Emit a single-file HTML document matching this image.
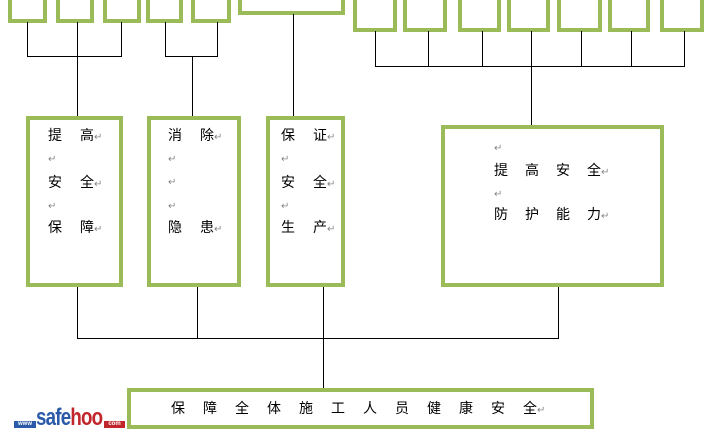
<!DOCTYPE html>
<html><head><meta charset="utf-8"><style>
body{margin:0;width:720px;height:442px;background:#fff;position:relative;overflow:hidden;font-family:"Liberation Sans","Noto Sans CJK SC",sans-serif}
.b{position:absolute;border:4px solid #9bbb59;box-sizing:border-box;background:#fff}
.l{position:absolute;background:#000}
.t{position:absolute;font-size:14px;line-height:16px;color:#000;white-space:pre}
.s{letter-spacing:18px}
.r{color:#888;font-size:10px;letter-spacing:0}
</style></head><body>
<!-- top boxes -->
<div class="b" style="left:8px;top:-10px;width:39px;height:33px"></div>
<div class="b" style="left:56px;top:-10px;width:38px;height:33px"></div>
<div class="b" style="left:103px;top:-10px;width:38px;height:33px"></div>
<div class="b" style="left:146px;top:-10px;width:37px;height:33px"></div>
<div class="b" style="left:191px;top:-10px;width:40px;height:33px"></div>
<div class="b" style="left:238px;top:-10px;width:107px;height:25px"></div>
<div class="b" style="left:353px;top:-10px;width:44px;height:42px"></div>
<div class="b" style="left:403px;top:-10px;width:44px;height:42px"></div>
<div class="b" style="left:458px;top:-10px;width:43px;height:42px"></div>
<div class="b" style="left:507px;top:-10px;width:43px;height:42px"></div>
<div class="b" style="left:557px;top:-10px;width:45px;height:42px"></div>
<div class="b" style="left:608px;top:-10px;width:42px;height:42px"></div>
<div class="b" style="left:660px;top:-10px;width:44px;height:42px"></div>
<!-- top connectors -->
<div class="l" style="left:27px;top:22px;width:1px;height:34px"></div>
<div class="l" style="left:77px;top:22px;width:1px;height:94px"></div>
<div class="l" style="left:121px;top:22px;width:1px;height:34px"></div>
<div class="l" style="left:27px;top:56px;width:95px;height:1px"></div>
<div class="l" style="left:165px;top:22px;width:1px;height:34px"></div>
<div class="l" style="left:217px;top:22px;width:1px;height:34px"></div>
<div class="l" style="left:165px;top:56px;width:53px;height:1px"></div>
<div class="l" style="left:192px;top:56px;width:1px;height:60px"></div>
<div class="l" style="left:293px;top:14px;width:1px;height:102px"></div>
<div class="l" style="left:375px;top:31px;width:1px;height:35px"></div>
<div class="l" style="left:428px;top:31px;width:1px;height:35px"></div>
<div class="l" style="left:482px;top:31px;width:1px;height:35px"></div>
<div class="l" style="left:531px;top:31px;width:1px;height:95px"></div>
<div class="l" style="left:581px;top:31px;width:1px;height:35px"></div>
<div class="l" style="left:631px;top:31px;width:1px;height:35px"></div>
<div class="l" style="left:684px;top:31px;width:1px;height:35px"></div>
<div class="l" style="left:375px;top:66px;width:310px;height:1px"></div>
<!-- middle boxes -->
<div class="b" style="left:26px;top:116px;width:97px;height:171px"></div>
<div class="b" style="left:147px;top:116px;width:94px;height:171px"></div>
<div class="b" style="left:266px;top:116px;width:79px;height:171px"></div>
<div class="b" style="left:441px;top:125px;width:223px;height:162px"></div>
<div class="t s" style="left:48px;top:127px">提<span style="letter-spacing:0">高</span><span class="r">↵</span></div>
<div class="t r" style="left:48px;top:152px">↵</div>
<div class="t s" style="left:48px;top:174px">安<span style="letter-spacing:0">全</span><span class="r">↵</span></div>
<div class="t r" style="left:48px;top:199px">↵</div>
<div class="t s" style="left:48px;top:219px">保<span style="letter-spacing:0">障</span><span class="r">↵</span></div>
<div class="t s" style="left:168px;top:127px">消<span style="letter-spacing:0">除</span><span class="r">↵</span></div>
<div class="t r" style="left:168px;top:152px">↵</div>
<div class="t r" style="left:168px;top:175px">↵</div>
<div class="t r" style="left:168px;top:199px">↵</div>
<div class="t s" style="left:168px;top:219px">隐<span style="letter-spacing:0">患</span><span class="r">↵</span></div>
<div class="t s" style="left:281px;top:127px">保<span style="letter-spacing:0">证</span><span class="r">↵</span></div>
<div class="t r" style="left:281px;top:152px">↵</div>
<div class="t s" style="left:281px;top:174px">安<span style="letter-spacing:0">全</span><span class="r">↵</span></div>
<div class="t r" style="left:281px;top:199px">↵</div>
<div class="t s" style="left:281px;top:219px">生<span style="letter-spacing:0">产</span><span class="r">↵</span></div>
<div class="t r" style="left:494px;top:141px">↵</div>
<div class="t" style="left:494px;top:162px;letter-spacing:17px">提高安<span style="letter-spacing:0">全</span><span class="r">↵</span></div>
<div class="t r" style="left:494px;top:187px">↵</div>
<div class="t" style="left:494px;top:206px;letter-spacing:17px">防护能<span style="letter-spacing:0">力</span><span class="r">↵</span></div>
<!-- bottom connectors -->
<div class="l" style="left:77px;top:287px;width:1px;height:51px"></div>
<div class="l" style="left:197px;top:287px;width:1px;height:51px"></div>
<div class="l" style="left:323px;top:287px;width:1px;height:102px"></div>
<div class="l" style="left:558px;top:287px;width:1px;height:51px"></div>
<div class="l" style="left:77px;top:338px;width:482px;height:1px"></div>
<div class="b" style="left:127px;top:388px;width:467px;height:41px"></div>
<div class="t" style="left:171px;top:400px;letter-spacing:18px">保障全体施工人员健康安<span style="letter-spacing:0">全</span><span class="r">↵</span></div>
<!-- logo -->
<div style="position:absolute;left:14px;top:421px;width:22px;height:7px;background:#2a5aa8;color:#fff;font:bold 6px/7px 'Liberation Sans',sans-serif;text-align:center">www</div>
<div style="position:absolute;left:36px;top:406px;font:bold 24px/24px 'Liberation Sans',sans-serif;letter-spacing:-1px;transform:scaleX(0.78);transform-origin:0 0"><span style="color:#2a5aa8">safe</span><span style="color:#c0262b">hoo</span></div>
<div style="position:absolute;left:104px;top:421px;width:21px;height:7px;background:#c0262b;color:#fff;font:bold 6px/7px 'Liberation Sans',sans-serif;text-align:center">com</div>
</body></html>
